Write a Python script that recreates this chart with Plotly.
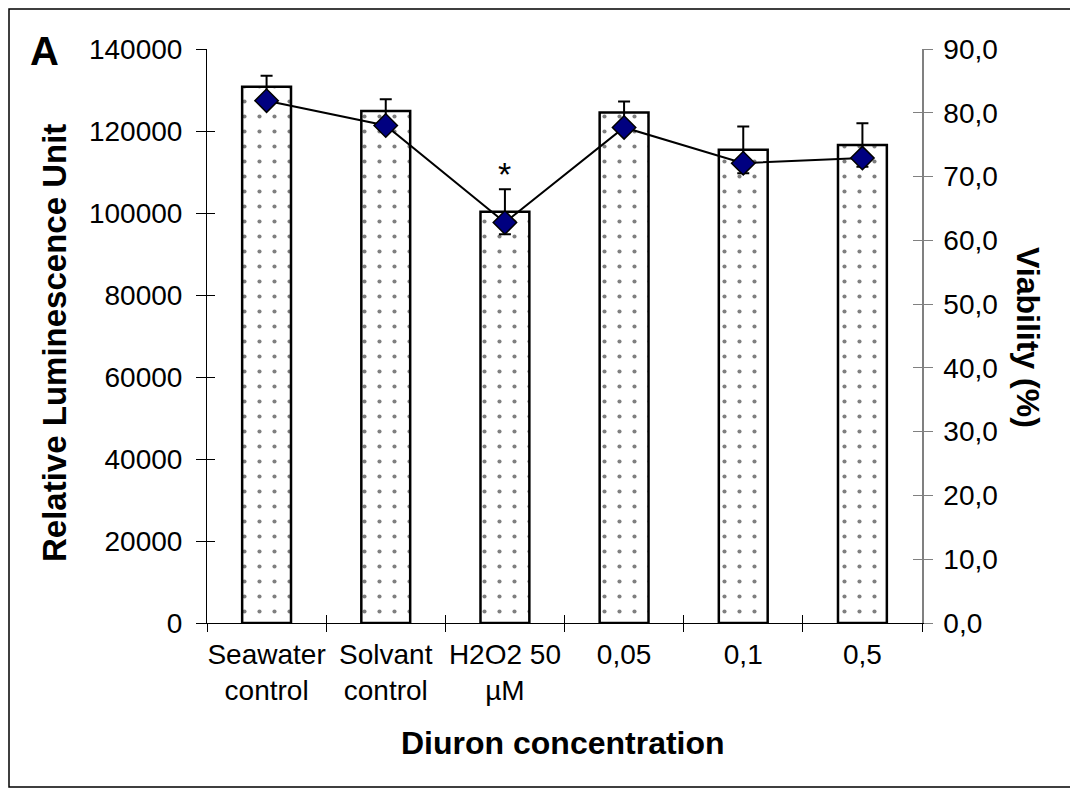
import plotly.graph_objects as go

categories = ["Seawater<br>control", "Solvant<br>control", "H2O2 50<br>µM", "0,05", "0,1", "0,5"]
rlu = [130800, 124900, 100300, 124500, 115400, 116600]
rlu_err = [2700, 2850, 5500, 2700, 5700, 5300]
viability = [81.9, 78.0, 62.8, 77.7, 72.1, 72.9]

left_ticks = [0, 20000, 40000, 60000, 80000, 100000, 120000, 140000]
left_ticktext = ["0", "20000", "40000", "60000", "80000", "100000", "120000", "140000"]
right_ticks = [0, 10, 20, 30, 40, 50, 60, 70, 80, 90]
right_ticktext = ["0,0", "10,0", "20,0", "30,0", "40,0", "50,0", "60,0", "70,0", "80,0", "90,0"]
boundaries = [-0.5, 0.5, 1.5, 2.5, 3.5, 4.5, 5.5]

FONT = "Liberation Sans, Arial, sans-serif"
OFF = 8  # page body margin
W, H = 1078 - OFF, 789 - OFF
L, R, T, B = 207 - OFF, 156, 49 - OFF, 166
PW, PH = W - L - R, H - T - B

def px(x):  # page pixel -> paper
    return (x - OFF - L) / PW

def py(y):
    return (H - B - (y - OFF)) / PH

fig = go.Figure()
fig.add_trace(go.Bar(
    x=categories, y=rlu, width=0.41,
    marker=dict(color="white", line=dict(color="black", width=2.5),
                pattern=dict(shape=".", fgcolor="black", bgcolor="white",
                             size=15, solidity=0.06, fillmode="overlay")),
    error_y=dict(type="data", array=rlu_err, color="black", thickness=2, width=6),
    showlegend=False,
))
fig.add_trace(go.Scatter(
    x=categories, y=viability, yaxis="y2", mode="lines+markers",
    line=dict(color="black", width=2),
    marker=dict(symbol="diamond", size=18, color="#000080", line=dict(color="black", width=1.5)),
    showlegend=False,
))

tickfont = dict(family=FONT, size=28, color="black")
fig.update_layout(
    width=W, height=H,
    margin=dict(l=L, r=R, t=T, b=B, autoexpand=False),
    paper_bgcolor="white", plot_bgcolor="white",
    showlegend=False,
    xaxis=dict(type="category", categoryarray=categories, range=[-0.5, 5.5],
               showline=True, linecolor="black", linewidth=1,
               ticks="outside", ticklen=8, tickcolor="black", tickwidth=1,
               tickson="boundaries", tickfont=tickfont, showgrid=False,
               tickangle=0, ticklabelstandoff=6, zeroline=False),
    xaxis2=dict(overlaying="x", range=[-0.5, 5.5], tickvals=boundaries,
                ticks="inside", ticklen=8, tickcolor="black", tickwidth=1,
                showticklabels=False, showgrid=False, zeroline=False,
                showline=False, side="bottom"),
    yaxis=dict(range=[0, 140000], tickvals=left_ticks, ticktext=left_ticktext,
               showline=True, linecolor="black", linewidth=1,
               ticks="outside", ticklen=10, tickcolor="black", tickwidth=1,
               tickfont=tickfont, showgrid=False, zeroline=False,
               ticklabelstandoff=8),
    yaxis3=dict(overlaying="y", range=[0, 140000], tickvals=left_ticks,
                ticks="inside", ticklen=8, tickcolor="black", tickwidth=1,
                showticklabels=False, showgrid=False, zeroline=False, showline=False),
    yaxis2=dict(overlaying="y", side="right", range=[0, 90], tickvals=right_ticks,
                ticktext=right_ticktext,
                showline=True, linecolor="#808080", linewidth=1.5,
                ticks="outside", ticklen=9, tickcolor="#808080", tickwidth=1,
                tickfont=tickfont, showgrid=False, zeroline=False,
                ticklabelstandoff=5),
    yaxis4=dict(overlaying="y", side="right", range=[0, 90], tickvals=right_ticks,
                ticks="inside", ticklen=9, tickcolor="#808080", tickwidth=1,
                showticklabels=False, showgrid=False, zeroline=False, showline=False),
)

# invisible traces so the overlay axes are drawn
fig.add_trace(go.Scatter(x=[None], y=[None], xaxis="x2", yaxis="y3", showlegend=False, hoverinfo="skip"))
fig.add_trace(go.Scatter(x=[None], y=[None], xaxis="x2", yaxis="y4", showlegend=False, hoverinfo="skip"))

titlefont = dict(family=FONT, size=32, color="black")
fig.add_annotation(text="<b>Diuron concentration</b>", xref="paper", yref="paper",
                   x=px(563), y=py(743), showarrow=False, font=titlefont,
                   xanchor="center", yanchor="middle")
fig.add_annotation(text="<b>Relative Luminescence Unit</b>", xref="paper", yref="paper",
                   x=px(54), y=py(343), showarrow=False,
                   font=dict(family=FONT, size=33, color="black"), textangle=-90,
                   xanchor="center", yanchor="middle")
fig.add_annotation(text="<b>Viability (%)</b>", xref="paper", yref="paper",
                   x=px(1028), y=py(337), showarrow=False, font=titlefont, textangle=90,
                   xanchor="center", yanchor="middle")
fig.add_annotation(text="<b>A</b>", xref="paper", yref="paper",
                   x=px(44), y=py(51), showarrow=False,
                   font=dict(family=FONT, size=40, color="black"),
                   xanchor="center", yanchor="middle")
fig.add_annotation(text="*", x=categories[2], y=rlu[2] + rlu_err[2], yshift=-6,
                   showarrow=False, font=dict(family=FONT, size=34, color="black"),
                   xanchor="center", yanchor="bottom")

fig.add_shape(type="rect", xref="paper", yref="paper",
              x0=px(9), x1=px(1075), y0=py(787), y1=py(9),
              line=dict(color="black", width=1.5), fillcolor="rgba(0,0,0,0)", layer="above")

fig.write_html("out.html")
